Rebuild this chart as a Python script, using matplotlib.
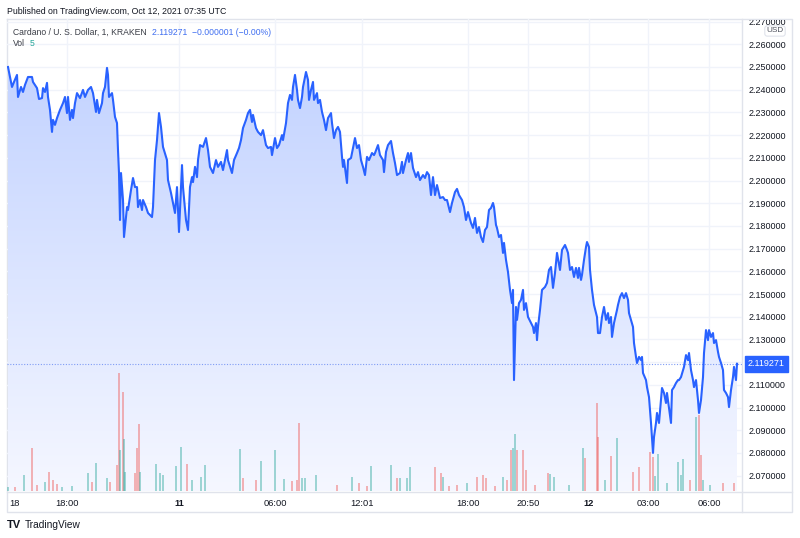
import numpy as np
import matplotlib
matplotlib.use("Agg")
import matplotlib.pyplot as plt
from matplotlib.colors import LinearSegmentedColormap
from matplotlib.transforms import Bbox, TransformedBbox

plt.rcParams['font.family'] = ['Liberation Sans', 'DejaVu Sans']

# ---------------- data (bar index ~ 3-minute steps) ----------------
bar = [8, 12, 14, 17, 18, 21, 23, 25, 28, 32,
       33, 37, 39, 42, 43, 45, 47, 48, 50, 52,
       53, 55, 57, 60, 63, 65, 67, 68, 70, 72,
       73, 75, 77, 80, 83, 85, 88, 91, 93, 96,
       97, 99, 102, 103, 105, 107, 108, 109, 112, 113,
       115, 117, 118, 119, 120, 121, 123, 124, 127, 128,
       131, 133, 135, 137, 138, 140, 142, 143, 146, 148,
       152, 153, 155, 157, 159, 161, 163, 167, 168, 171,
       173, 175, 177, 179, 182, 183, 186, 188, 190, 192,
       193, 195, 197, 198, 200, 203, 206, 208, 210, 213,
       216, 218, 221, 223, 227, 228, 232, 234, 237, 239,
       241, 243, 246, 248, 250, 252, 253, 256, 258, 261,
       263, 266, 268, 271, 272, 275, 277, 279, 282, 283,
       286, 288, 290, 292, 293, 295, 297, 298, 300, 302,
       303, 306, 308, 309, 311, 313, 314, 317, 318, 320,
       322, 324, 326, 328, 331, 332, 334, 336, 338, 340,
       342, 343, 344, 347, 348, 351, 353, 355, 357, 359,
       361, 363, 365, 367, 369, 372, 374, 375, 378, 380,
       383, 384, 386, 388, 391, 393, 395, 397, 400, 402,
       403, 406, 408, 409, 411, 413, 416, 418, 420, 423,
       425, 427, 429, 431, 433, 435, 437, 440, 443, 445,
       447, 450, 452, 455, 457, 459, 462, 464, 466, 468,
       471, 473, 475, 477, 479, 481, 483, 485, 487, 489,
       491, 493, 494, 496, 497, 499, 501, 503, 504, 506,
       508, 510, 512, 513, 514, 516, 517, 519, 521, 523,
       524, 526, 528, 531, 533, 534, 536, 537, 538, 540,
       542, 545, 547, 549, 551, 553, 555, 557, 560, 562,
       565, 567, 568, 570, 572, 574, 576, 578, 579, 581,
       582, 584, 586, 587, 589, 590, 592, 594, 597, 598,
       600, 602, 604, 606, 608, 609, 611, 612, 614, 617,
       618, 620, 622, 624, 626, 628, 629, 631, 633, 634,
       636, 637, 639, 641, 642, 643, 646, 647, 649, 651,
       653, 654, 656, 657, 659, 661, 662, 664, 666, 667,
       669, 671, 672, 674, 676, 678, 679, 681, 683, 684,
       686, 688, 689, 691, 693, 694, 696, 698, 699, 701,
       703, 704, 706, 708, 709, 711, 713, 714, 716, 718,
       719, 721, 723, 724, 726, 728, 729, 731, 733, 734,
       736, 737]

price = [2.2500, 2.2412, 2.2434, 2.2465, 2.2368, 2.2412, 2.2390, 2.2421, 2.2456, 2.2456,
         2.2434, 2.2407, 2.2359, 2.2363, 2.2407, 2.2390, 2.2430, 2.2368, 2.2311, 2.2214,
         2.2267, 2.2245, 2.2275, 2.2311, 2.2341, 2.2368, 2.2297, 2.2368, 2.2267, 2.2311,
         2.2275, 2.2341, 2.2385, 2.2363, 2.2399, 2.2368, 2.2399, 2.2412, 2.2385, 2.2302,
         2.2355, 2.2297, 2.2341, 2.2385, 2.2412, 2.2496, 2.2465, 2.2368, 2.2385, 2.2355,
         2.2280, 2.2253, 2.2134, 2.2033, 2.1826, 2.2033, 2.1914, 2.1751, 2.1883, 2.1870,
         2.1958, 2.2011, 2.1971, 2.1971, 2.1883, 2.1914, 2.1870, 2.1914, 2.1883, 2.1857,
         2.1839, 2.1883, 2.2090, 2.2178, 2.2297, 2.2236, 2.2148, 2.2090, 2.2002, 2.1945,
         2.1901, 2.1857, 2.1971, 2.1773, 2.2068, 2.1971, 2.1826, 2.1782, 2.1971, 2.2015,
         2.1993, 2.2060, 2.2015, 2.2090, 2.2156, 2.2148, 2.2187, 2.2134, 2.2060, 2.2033,
         2.2090, 2.2060, 2.2082, 2.2046, 2.2134, 2.2090, 2.2033, 2.2090, 2.2121, 2.2143,
         2.2178, 2.2231, 2.2267, 2.2297, 2.2311, 2.2258, 2.2289, 2.2231, 2.2214, 2.2200,
         2.2222, 2.2156, 2.2143, 2.2148, 2.2112, 2.2187, 2.2143, 2.2156, 2.2200, 2.2178,
         2.2253, 2.2341, 2.2377, 2.2355, 2.2412, 2.2465, 2.2399, 2.2355, 2.2319, 2.2368,
         2.2412, 2.2478, 2.2443, 2.2355, 2.2399, 2.2434, 2.2355, 2.2385, 2.2341, 2.2355,
         2.2302, 2.2267, 2.2222, 2.2275, 2.2297, 2.2253, 2.2187, 2.2222, 2.2236, 2.2214,
         2.2104, 2.2060, 2.2090, 2.1989, 2.2090, 2.2099, 2.2143, 2.2187, 2.2143, 2.2156,
         2.2090, 2.2060, 2.2024, 2.2104, 2.2090, 2.2121, 2.2112, 2.2121, 2.2156, 2.2112,
         2.2090, 2.2037, 2.2126, 2.2156, 2.2174, 2.2121, 2.2077, 2.2024, 2.2033, 2.2082,
         2.2033, 2.2090, 2.2121, 2.2082, 2.2121, 2.2055, 2.2015, 2.2037, 2.2002, 2.2024,
         2.2011, 2.2037, 2.2024, 2.1936, 2.2015, 2.1936, 2.1980, 2.1923, 2.1927, 2.1914,
         2.1914, 2.1861, 2.1901, 2.1949, 2.1963, 2.1936, 2.1914, 2.1883, 2.1826, 2.1861,
         2.1813, 2.1791, 2.1835, 2.1769, 2.1795, 2.1751, 2.1729, 2.1782, 2.1795, 2.1870,
         2.1879, 2.1901, 2.1883, 2.1804, 2.1791, 2.1751, 2.1760, 2.1681, 2.1725, 2.1650,
         2.1597, 2.1518, 2.1460, 2.1518, 2.1121, 2.1443, 2.1386, 2.1460, 2.1474, 2.1518,
         2.1430, 2.1460, 2.1399, 2.1372, 2.1355, 2.1328, 2.1372, 2.1297, 2.1355, 2.1430,
         2.1518, 2.1531, 2.1549, 2.1606, 2.1619, 2.1527, 2.1593, 2.1681, 2.1606, 2.1694,
         2.1716, 2.1694, 2.1681, 2.1606, 2.1619, 2.1575, 2.1615, 2.1571, 2.1615, 2.1562,
         2.1584, 2.1650, 2.1707, 2.1729, 2.1707, 2.1606, 2.1518, 2.1452, 2.1399, 2.1328,
         2.1328, 2.1399, 2.1443, 2.1386, 2.1416, 2.1372, 2.1399, 2.1311, 2.1372, 2.1430,
         2.1452, 2.1487, 2.1504, 2.1482, 2.1504, 2.1474, 2.1416, 2.1386, 2.1355, 2.1284,
         2.1223, 2.1196, 2.1223, 2.1209, 2.1223, 2.1152, 2.1121, 2.1090, 2.1046, 2.0932,
         2.0800, 2.0870, 2.0932, 2.0976, 2.0932, 2.1033, 2.1086, 2.1064, 2.1020, 2.1064,
         2.0998, 2.0932, 2.1077, 2.1090, 2.1108, 2.1121, 2.1121, 2.1134, 2.1165, 2.1179,
         2.1231, 2.1209, 2.1240, 2.1165, 2.1121, 2.1090, 2.1121, 2.1033, 2.0976, 2.1033,
         2.1134, 2.1240, 2.1341, 2.1297, 2.1341, 2.1311, 2.1328, 2.1284, 2.1297, 2.1245,
         2.1223, 2.1196, 2.1165, 2.1077, 2.1064, 2.1046, 2.1002, 2.1077, 2.1134, 2.1179,
         2.1121, 2.119271]

vol_bar = [8, 15, 24, 32, 37, 45, 49, 53, 57, 62,
           72, 88, 92, 96, 107, 110, 117, 119, 120, 123,
           124, 125, 135, 137, 139, 140, 156, 160, 163, 176,
           181, 187, 192, 201, 205, 240, 243, 256, 261, 275,
           284, 292, 297, 299, 302, 305, 316, 337, 352, 359,
           367, 371, 391, 397, 400, 407, 410, 435, 441, 443,
           449, 457, 467, 477, 483, 486, 495, 503, 507, 511,
           513, 515, 517, 523, 526, 535, 548, 550, 554, 569,
           583, 585, 597, 598, 605, 611, 617, 633, 639, 650,
           653, 655, 658, 667, 678, 681, 683, 690, 696, 699,
           701, 703, 710, 723, 734]
vol = [4, 4, 16, 43, 6, 9, 19, 11, 7, 4,
       5, 18, 9, 28, 13, 9, 26, 118, 41, 99,
       52, 19, 18, 43, 67, 19, 27, 18, 16, 25,
       44, 27, 11, 14, 26, 42, 13, 11, 30, 41,
       12, 10, 11, 68, 13, 13, 16, 6, 14, 8,
       5, 25, 26, 13, 13, 13, 24, 24, 18, 14,
       5, 6, 8, 14, 16, 13, 5, 14, 11, 41,
       43, 57, 41, 41, 21, 6, 18, 17, 14, 6,
       43, 33, 88, 54, 11, 35, 53, 19, 24, 39,
       34, 15, 37, 8, 29, 16, 32, 11, 74, 76,
       36, 11, 6, 8, 8]
vol_up = [1, 0, 1, 0, 0, 1, 0, 0, 0, 1,
          1, 1, 0, 1, 1, 0, 0, 0, 1, 0,
          1, 1, 0, 0, 0, 1, 1, 1, 1, 1,
          1, 0, 1, 1, 1, 1, 0, 0, 1, 1,
          1, 0, 0, 0, 1, 1, 1, 0, 1, 0,
          0, 1, 1, 0, 1, 1, 1, 0, 0, 1,
          0, 0, 1, 0, 0, 0, 0, 1, 0, 0,
          1, 1, 0, 0, 0, 0, 0, 1, 1, 1,
          1, 0, 0, 0, 1, 0, 1, 0, 0, 0,
          0, 1, 1, 1, 1, 1, 1, 0, 1, 0,
          0, 1, 1, 0, 0]

price_ticks = [2.07, 2.08, 2.09, 2.10, 2.11, 2.12, 2.13, 2.14, 2.15, 2.16,
               2.17, 2.18, 2.19, 2.20, 2.21, 2.22, 2.23, 2.24, 2.25, 2.26, 2.27]
time_tick_bar = [14, 67, 179, 275, 362, 468, 528, 589, 648, 709]
time_tick_lab = ["18", "18:00", "11", "06:00", "12:01", "18:00", "20:50", "12", "03:00", "06:00"]
day_ticks = {"11", "12"}

title = "Cardano / U. S. Dollar, 1, KRAKEN"
last_price = 2.119271
change_txt = "\u22120.000001 (\u22120.00%)"

assert len(bar) == len(price)
assert len(vol_bar) == len(vol) == len(vol_up)

# ---------------- figure ----------------
W, H = 800, 538
fig = plt.figure(figsize=(W / 100, H / 100), dpi=100)
fig.patch.set_facecolor('white')

def fx(px):
    return px / W

def fy(py):
    return 1 - py / H

LINE = '#2962ff'
GRID = '#f0f3fa'
BORDER = '#e0e3eb'
TXT = '#131722'
FS = 6.5

# background/decoration axes in pixel coords
bg = fig.add_axes([0, 0, 1, 1], zorder=-5)
bg.set_xlim(0, W)
bg.set_ylim(H, 0)
bg.axis('off')
bg.plot([7, 792, 792, 7, 7], [19, 19, 512, 512, 19], color=BORDER, lw=1)
bg.plot([742, 742], [19, 512], color=BORDER, lw=1)
bg.plot([7, 792], [491.5, 491.5], color=BORDER, lw=1)

# main price axes
L, R, T, B = 7, 742, 19, 491
ax = fig.add_axes([fx(L), fy(B), fx(R - L), (B - T) / H], zorder=1)
ax.set_facecolor('none')
ymin, ymax = 2.06323, 2.27114
xmin, xmax = L, R

# volume axes (drawn over the area fill)
axv = fig.add_axes(ax.get_position(), zorder=2, sharex=ax)
axv.set_facecolor('none')
colors = ['#26a69a' if u else '#ef5350' for u in vol_up]
axv.bar(vol_bar, vol, width=1.1, color=colors, alpha=0.42, linewidth=0)
axv.set_ylim(0, B - T)
axv.axis('off')

# grid
for p in price_ticks:
    ax.axhline(p, color=GRID, lw=1, zorder=0)
for t in time_tick_bar[1:]:
    ax.axvline(t, color=GRID, lw=1, zorder=0)

# gradient area fill
top_c = np.array([195, 211, 255]) / 255
bot_c = np.array([245, 247, 255]) / 255
cmap = LinearSegmentedColormap.from_list('g', [bot_c, top_c])
grad = np.linspace(0, 1, 256).reshape(-1, 1)
im = ax.imshow(grad, extent=[xmin, xmax, ymin, max(price)], origin='lower',
               aspect='auto', cmap=cmap, zorder=1, interpolation='bilinear')
poly = ax.fill_between(bar, price, ymin, color='none', lw=0)
im.set_clip_path(poly.get_paths()[0], transform=ax.transData)

ax.plot(bar, price, color=LINE, lw=1.5, zorder=3, solid_joinstyle='round')
ax.axhline(last_price, color='#7f9cf5', lw=0.8, ls=(0, (1, 1.5)), zorder=2)

ax.set_xlim(xmin, xmax)
ax.set_ylim(ymin, ymax)
for s in ax.spines.values():
    s.set_visible(False)

# x ticks
ax.set_xticks(time_tick_bar)
ax.set_xticklabels(time_tick_lab)
for lab in ax.get_xticklabels():
    lab.set_fontsize(6.7)
    lab.set_color(TXT)
    if lab.get_text() in day_ticks:
        lab.set_fontweight('bold')
ax.tick_params(axis='x', length=0, pad=6)

# y ticks on right (the 2.12 label sits under the last-price tag)
ax.yaxis.tick_right()
ax.set_yticks(price_ticks)
ax.set_yticklabels(["" if abs(p - 2.12) < 1e-9 else f"{p:.6f}" for p in price_ticks])
ax.tick_params(axis='y', length=0, pad=5, labelsize=FS, labelcolor=TXT)
clipbox = TransformedBbox(Bbox([[0, 0], [1, fy(19.5)]]), fig.transFigure)
for lab in ax.get_yticklabels():
    lab.set_clip_on(True)
    lab.set_clip_box(clipbox)

# last price tag
fig.text(fx(766.5), fy(364), f"{last_price:.6f}", fontsize=FS, color='white',
         ha='center', va='center', zorder=10,
         bbox=dict(boxstyle='square,pad=0.35', fc=LINE, ec=LINE))
# USD tag
fig.text(fx(775), fy(31), "USD", fontsize=5.9, color='#50535e', ha='center', va='center',
         zorder=10, bbox=dict(boxstyle='round,pad=0.2,rounding_size=0.3', fc='white', ec=BORDER, lw=0.8))

# header text
fig.text(fx(7), fy(12), "Published on TradingView.com, Oct 12, 2021 07:35 UTC",
         fontsize=6.3, color=TXT, ha='left', va='center')
fig.text(fx(13), fy(32.5), title, fontsize=6.2, color='#3b3e47', ha='left', va='center')
fig.text(fx(152), fy(32.5), f"{last_price:.6f}  {change_txt}", fontsize=6.2,
         color='#3f6ef0', ha='left', va='center')
fig.text(fx(13), fy(44), "Vol", fontsize=6.2, color='#3b3e47', ha='left', va='center')
fig.text(fx(30), fy(44), "5", fontsize=6.2, color='#26a69a', ha='left', va='center')

# footer logo
fig.text(fx(7), fy(525), "TV", fontsize=8, fontweight='bold', color=TXT, ha='left', va='center')
fig.text(fx(25), fy(525), "TradingView", fontsize=7.3, color=TXT, ha='left', va='center')

fig.savefig('out.png', dpi=100, facecolor='white')
